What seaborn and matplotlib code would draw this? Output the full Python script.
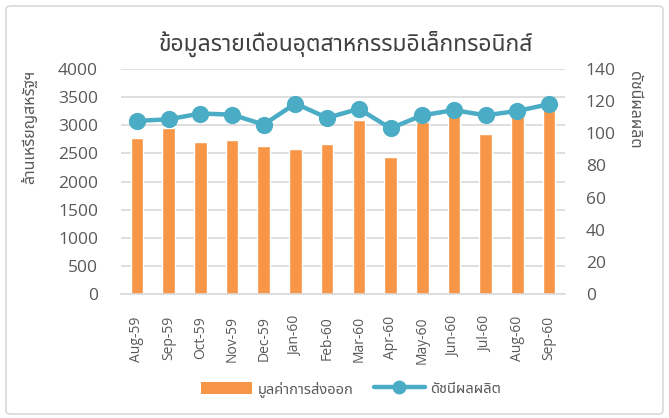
import matplotlib
matplotlib.use("Agg")
import matplotlib.pyplot as plt
from matplotlib.patches import FancyBboxPatch, Patch
from matplotlib.lines import Line2D
import seaborn as sns
import pandas as pd

months = ["Aug-59", "Sep-59", "Oct-59", "Nov-59", "Dec-59", "Jan-60", "Feb-60",
          "Mar-60", "Apr-60", "May-60", "Jun-60", "Jul-60", "Aug-60", "Sep-60"]
export_value = [2770, 2950, 2700, 2730, 2630, 2580, 2670,
                3100, 2440, 3060, 3210, 2845, 3210, 3300]
production_index = [107.7, 108.7, 112.3, 111.6, 105.4, 118.5, 109.6,
                    115.2, 103.1, 111.2, 114.4, 111.2, 113.9, 118.1]

title = "ข้อมูลรายเดือนอุตสาหกรรมอิเล็กทรอนิกส์"
left_label = "ล้านเหรียญสหรัฐฯ"
right_label = "ดัชนีผลผลิต"
bar_name = "มูลค่าการส่งออก"
line_name = "ดัชนีผลผลิต"

sns.set_theme(style="white")
plt.rcParams['font.family'] = ['Open Sans', 'Noto Sans Thai', 'DejaVu Sans']

ORANGE = "#F79646"
BLUE = "#4BACC6"
GRID = "#D9D9D9"
TXT = "#595959"

df = pd.DataFrame({"month": months, "value": export_value, "index": production_index})

fig = plt.figure(figsize=(6.69, 4.18), dpi=100)
ax = fig.add_axes([121/669, 1-294/418, (565-121)/669, (294-69)/418])

sns.barplot(data=df, x="month", y="value", ax=ax, color=ORANGE, width=0.4,
            saturation=1, order=months)
ax.set_ylim(0, 4000)
ax.set_yticks(range(0, 4001, 500))
ax.yaxis.grid(True, color=GRID, linewidth=1.2)
ax.set_axisbelow(True)
for s in ["top", "right", "left"]:
    ax.spines[s].set_visible(False)
ax.spines["bottom"].set_color(GRID)
ax.spines["bottom"].set_linewidth(1.2)
ax.set_xlabel("")
ax.set_ylabel("")
ax.tick_params(axis="y", labelsize=12.5, colors=TXT, length=0, pad=16.5)
ax.tick_params(axis="x", labelsize=10, colors=TXT, length=0, pad=16, labelrotation=90)
ax.set_xlim(-0.5, len(months) - 0.5)

ax2 = ax.twinx()
sns.pointplot(data=df, x="month", y="index", ax=ax2, color=BLUE, order=months,
              markers="o", markersize=10, linewidth=3.2)
ax2.set_ylim(0, 140)
ax2.set_yticks(range(0, 141, 20))
for s in ["top", "right", "left", "bottom"]:
    ax2.spines[s].set_visible(False)
ax2.set_ylabel("")
ax2.set_xlabel("")
ax2.tick_params(axis="y", labelsize=12.5, colors=TXT, length=0, pad=15)
ax2.set_xlim(-0.5, len(months) - 0.5)

fig.text(346/669, 1-44/418, title, ha="center", va="center", fontsize=16.5, color="#404040")
fig.text(30/669, 1-127/418, left_label, rotation=90, ha="center", va="center",
         fontsize=11.5, color=TXT)
fig.text(634/669, 1-110/418, right_label, rotation=270, ha="center", va="center",
         fontsize=11.5, color=TXT)

handles = [Patch(facecolor=ORANGE, edgecolor="none"),
           Line2D([0], [0], color=BLUE, linewidth=3.2, marker="o", markersize=9)]
fig.legend(handles, [bar_name, line_name], loc="center",
           bbox_to_anchor=(351/669, 1-389/418),
           ncol=2, frameon=False, fontsize=10.5, labelcolor=TXT, handlelength=3.5,
           handleheight=0.9, columnspacing=1.4, handletextpad=0.4)

border = FancyBboxPatch((6/669, 4/418), 657/669, 408/418, boxstyle="round,pad=0,rounding_size=0.008",
                        transform=fig.transFigure, facecolor="none", edgecolor=GRID,
                        linewidth=1.2)
fig.patches.append(border)

fig.savefig("out.png", dpi=100)
